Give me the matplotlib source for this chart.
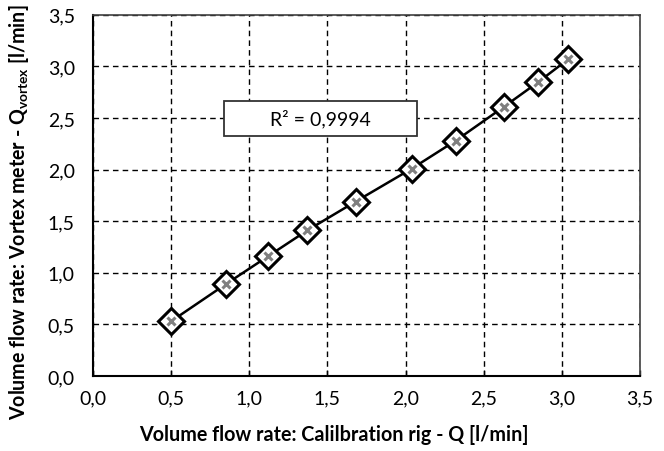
import matplotlib
matplotlib.use("Agg")
import matplotlib.pyplot as plt
from matplotlib.patches import Rectangle

q_rig = [0.50, 0.85, 1.12, 1.37, 1.68, 2.04, 2.32, 2.63, 2.85, 3.04]
q_vortex = [0.53, 0.89, 1.16, 1.41, 1.69, 2.01, 2.28, 2.61, 2.85, 3.07]
ticks = [0.0, 0.5, 1.0, 1.5, 2.0, 2.5, 3.0, 3.5]
tick_labels = ["0,0", "0,5", "1,0", "1,5", "2,0", "2,5", "3,0", "3,5"]
r2_text = "R² = 0,9994"

plt.rcParams['font.family'] = ['Lato', 'DejaVu Sans']
plt.rcParams['mathtext.fontset'] = 'custom'
plt.rcParams['mathtext.rm'] = 'Lato'
plt.rcParams['mathtext.bf'] = 'Lato:bold'

fig = plt.figure(figsize=(6.64, 4.52), dpi=100)
ax = fig.add_axes([0.140, 0.166, 0.824, 0.799])

ax.plot(q_rig, q_vortex, color='black', lw=1.8, zorder=3)
ax.plot(q_rig, q_vortex, linestyle='none', marker='D', markersize=13,
        markerfacecolor='white', markeredgecolor='black', markeredgewidth=2.2, zorder=4)
ax.plot(q_rig, q_vortex, linestyle='none', marker='x', markersize=6,
        markeredgecolor='#808080', markeredgewidth=2.2, zorder=5)

ax.set_xlim(0, 3.5)
ax.set_ylim(0, 3.5)
ax.set_xticks(ticks)
ax.set_xticklabels(tick_labels, fontsize=14)
ax.set_yticks(ticks)
ax.set_yticklabels(tick_labels, fontsize=14)
ax.tick_params(axis='x', direction='in', length=4, width=1, pad=10)
ax.tick_params(axis='y', length=0, pad=13)

ax.grid(True, color='black', linestyle=(0, (4, 3)), linewidth=1.0)
ax.set_axisbelow(True)

for s in ['left', 'bottom']:
    ax.spines[s].set_color('black')
    ax.spines[s].set_linewidth(1.5)
for s in ['top', 'right']:
    ax.spines[s].set_color('#404040')
    ax.spines[s].set_linewidth(1.2)

ax.set_xlabel("Volume flow rate: Calilbration rig - Q [l/min]", fontsize=14.2, fontweight='bold', va='center')
ax.xaxis.set_label_coords(0.44, -0.16)
ax.set_ylabel(r"Volume flow rate: Vortex meter - Q$_{\mathbf{vortex}}$ [l/min]", fontsize=14.1,
              fontweight='bold', va='center')
ax.yaxis.set_label_coords(-0.135, 0.455)

box = Rectangle((0.84, 2.33), 1.23, 0.33, facecolor='white', edgecolor='#333333', lw=1.3, zorder=6)
ax.add_patch(box)
ax.text(0.84 + 1.23 / 2, 2.33 + 0.33 / 2, r2_text, ha='center', va='center', fontsize=14, zorder=7)

fig.savefig("out.png", dpi=100)
